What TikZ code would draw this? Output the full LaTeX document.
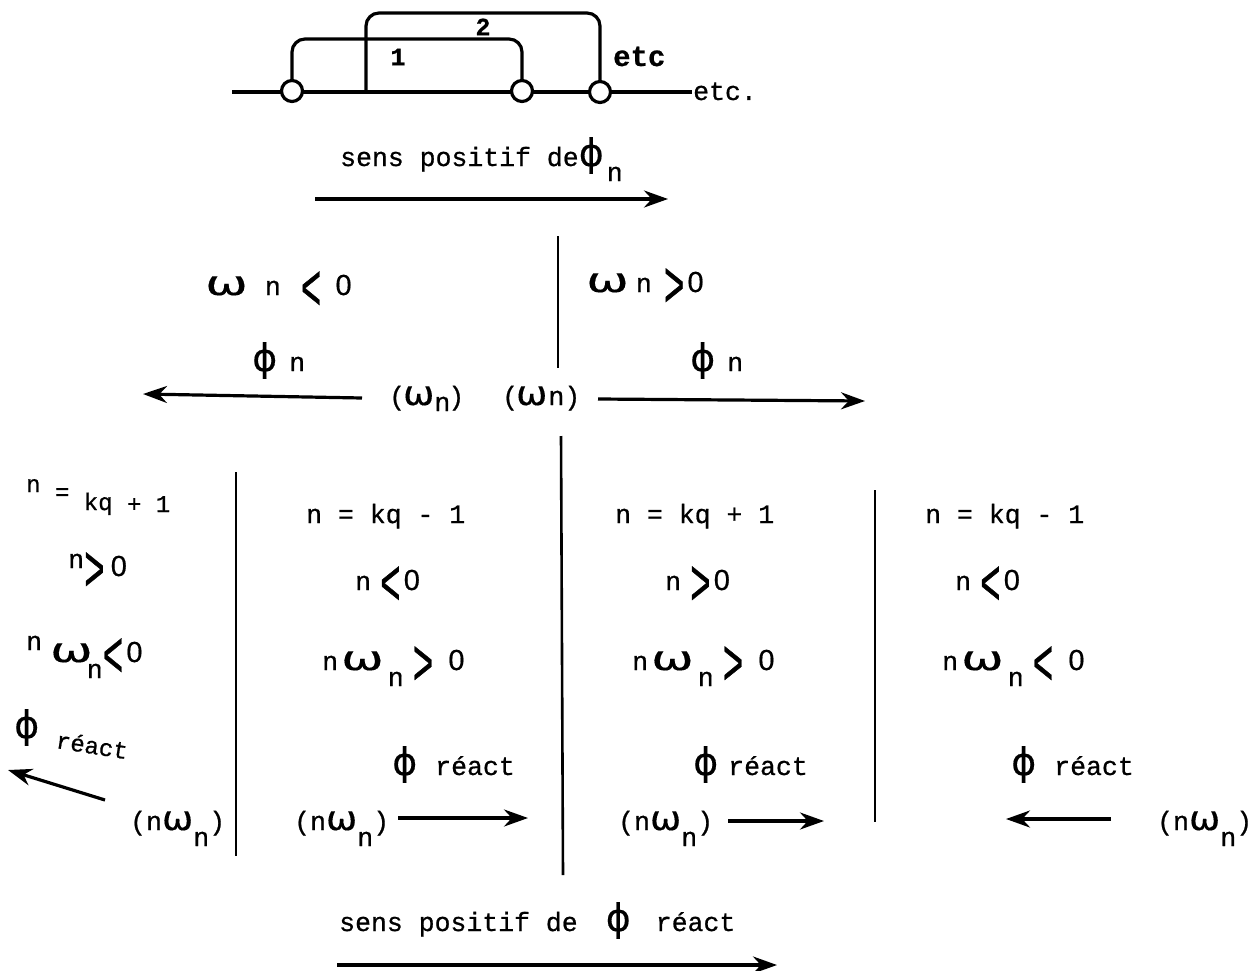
\documentclass[tikz,border=0pt]{standalone}
\usepackage{graphicx}
\usepackage{fontspec}
\setmainfont[FakeBold=0.7]{Liberation Mono}
\newfontfamily\gr[FakeBold=0.3]{DejaVu Sans}
\newfontfamily\zr[FakeBold=0.6]{Liberation Sans}
\usetikzlibrary{arrows.meta}
\newcommand{\ph}{{\gr\fontsize{38}{38}\selectfont ϕ}}
\newcommand{\om}{\scalebox{1.5}[1]{\gr\fontsize{34}{34}\selectfont ω}}
\newcommand{\oms}{\scalebox{1.1}[1]{\gr\fontsize{34}{34}\selectfont ω}}
\newcommand{\sbn}{\raisebox{-16pt}{n}}
\newcommand{\ltx}{\raisebox{-15pt}{\scalebox{1.3}[2.5]{<}}}
\newcommand{\gtx}{\raisebox{-15pt}{\scalebox{1.3}[2.5]{>}}}
\newcommand{\zero}{{\zr\fontsize{29}{29}\selectfont 0}}
\tikzset{
 txt/.style={inner sep=0pt,anchor=base west,font=\fontsize{26.5}{28}\selectfont},
 small/.style={inner sep=0pt,anchor=base west,font=\fontsize{24}{26}\selectfont},
 numtag/.style={inner sep=0pt,font=\fontsize{25}{26}\bfseries\selectfont},
 rule/.style={line width=2.6pt,black},
 wire/.style={line width=3.2pt,black,rounded corners=13pt},
 arw/.style={line width=3.2pt,black,-{Stealth[length=24pt,width=17pt]}},
 junction/.style={circle,draw=black,line width=3.2pt,fill=white,minimum size=21pt,inner sep=0pt}
}
\begin{document}
\begin{tikzpicture}[x=1pt,y=-1pt]
\useasboundingbox (0,0) rectangle (1255,971);
\fill[white] (0,0) rectangle (1255,971);
% top network
\coordinate (ls) at (232,92);
\coordinate (le) at (692,92);
\coordinate (b2) at (366,92);
\draw[line width=3.2pt] (ls) -- (le);
\draw[wire] (292,91) -- (292,39) -- (522,39) -- (522,91);
\draw[wire] (b2) -- (366,13) -- (600,13) -- (600,92);
\node[junction] (j1) at (292,91) {};
\node[junction] (j2) at (522,91) {};
\node[junction] (j3) at (600,92) {};
\node[numtag] (w2) at (483,27) {2};
\node[numtag] (w1) at (398,57) {1};
\node[txt,font=\fontsize{29}{30}\bfseries\selectfont] (etc1) at (613,66) {etc};
\node[txt] (etc2) at (693,100) {etc.};
\node[txt] (s1) at (340,166) {sens positif de\ph\hspace{3pt}\raisebox{-15pt}{n}};
\coordinate (a1s) at (315,199); \coordinate (a1e) at (668,199);
\draw[arw] (a1s) -- (a1e);
% upper section
\coordinate (r1a) at (558,236); \coordinate (r1b) at (558,368);
\draw[rule] (r1a) -- (r1b);
\node[txt] (o1) at (205,295) {\om\hspace{17pt}n\hspace{20pt}\ltx\hspace{14pt}\zero};
\node[txt] (o2) at (586,292) {\om\hspace{7pt}n\hspace{12pt}\gtx\hspace{3pt}\zero};
\node[txt] (p1) at (252,371) {\ph\hspace{12pt}n};
\node[txt] (p2) at (690,371) {\ph\hspace{12pt}n};
\node[txt] (q1) at (389,405) {(\hspace{-2pt}\oms\raisebox{-6pt}{n}\hspace{-2pt})};
\node[txt] (q2) at (502,405) {(\hspace{-2pt}\oms\hspace{1pt}n)};
\coordinate (a2s) at (362,398); \coordinate (a2e) at (143,394);
\draw[arw] (a2s) -- (a2e);
\coordinate (a3s) at (598,399); \coordinate (a3e) at (865,401);
\draw[arw] (a3s) -- (a3e);
% lower rules
\coordinate (r2a) at (236,472); \coordinate (r2b) at (236,856);
\coordinate (r3a) at (561,436); \coordinate (r3b) at (563,875);
\coordinate (r4a) at (875,490); \coordinate (r4b) at (875,822);
\draw[rule] (r2a) -- (r2b);
\draw[rule] (r3a) -- (r3b);
\draw[rule] (r4a) -- (r4b);
% column 1
\node[small] (c1a) at (26,512) {\raisebox{20pt}{n}\raisebox{12pt}{ =} \raisebox{2pt}{kq} + 1};
\node[txt] (c1b) at (68,576) {\raisebox{8pt}{n}\gtx\hspace{6pt}\zero};
\node[txt] (c1c) at (26,662) {\raisebox{12pt}{n}\hspace{8pt}\om\hspace{-6pt}\sbn\ltx\hspace{3pt}\zero};
\node[txt] (c1d) at (14,738) {\ph};
\node[small] (c1e) at (55,748) {\rotatebox{-9}{réact}};
\node[txt] (c1f) at (130,830) {(n\oms\sbn)};
\coordinate (a4s) at (105,800); \coordinate (a4e) at (8,770);
\draw[arw] (a4s) -- (a4e);
% column 2
\node[txt] (c2a) at (306,523) {n = kq - 1};
\node[txt] (c2b) at (355,590) {n\hspace{9pt}\ltx\hspace{3pt}\zero};
\node[txt] (c2c) at (322,670) {n\hspace{3pt}\om\hspace{4pt}\sbn\hspace{9pt}\gtx\hspace{15pt}\zero};
\node[txt] (c2d) at (392,775) {\ph\hspace{18pt}réact};
\node[txt] (c2e) at (294,830) {(n\oms\sbn)};
\coordinate (a5s) at (398,818); \coordinate (a5e) at (528,818);
\draw[arw] (a5s) -- (a5e);
% column 3
\node[txt] (c3a) at (615,523) {n = kq + 1};
\node[txt] (c3b) at (665,590) {n\hspace{9pt}\gtx\hspace{3pt}\zero};
\node[txt] (c3c) at (632,670) {n\hspace{3pt}\om\hspace{4pt}\sbn\hspace{9pt}\gtx\hspace{15pt}\zero};
\node[txt] (c3d) at (693,775) {\ph\hspace{10pt}réact};
\node[txt] (c3e) at (618,830) {(n\oms\sbn)};
\coordinate (a6s) at (728,821); \coordinate (a6e) at (824,821);
\draw[arw] (a6s) -- (a6e);
% column 4
\node[txt] (c4a) at (925,523) {n = kq - 1};
\node[txt] (c4b) at (955,590) {n\hspace{9pt}\ltx\hspace{3pt}\zero};
\node[txt] (c4c) at (942,670) {n\hspace{3pt}\om\hspace{4pt}\sbn\hspace{9pt}\ltx\hspace{15pt}\zero};
\node[txt] (c4d) at (1011,775) {\ph\hspace{18pt}réact};
\node[txt] (c4e) at (1157,830) {(n\oms\sbn)};
\coordinate (a7s) at (1111,819); \coordinate (a7e) at (1006,819);
\draw[arw] (a7s) -- (a7e);
% bottom
\node[txt] (s2) at (339,931) {sens positif de\hspace{28pt}\ph\hspace{25pt}réact};
\coordinate (a8s) at (337,965); \coordinate (a8e) at (777,965);
\draw[arw] (a8s) -- (a8e);
\end{tikzpicture}
\end{document}
